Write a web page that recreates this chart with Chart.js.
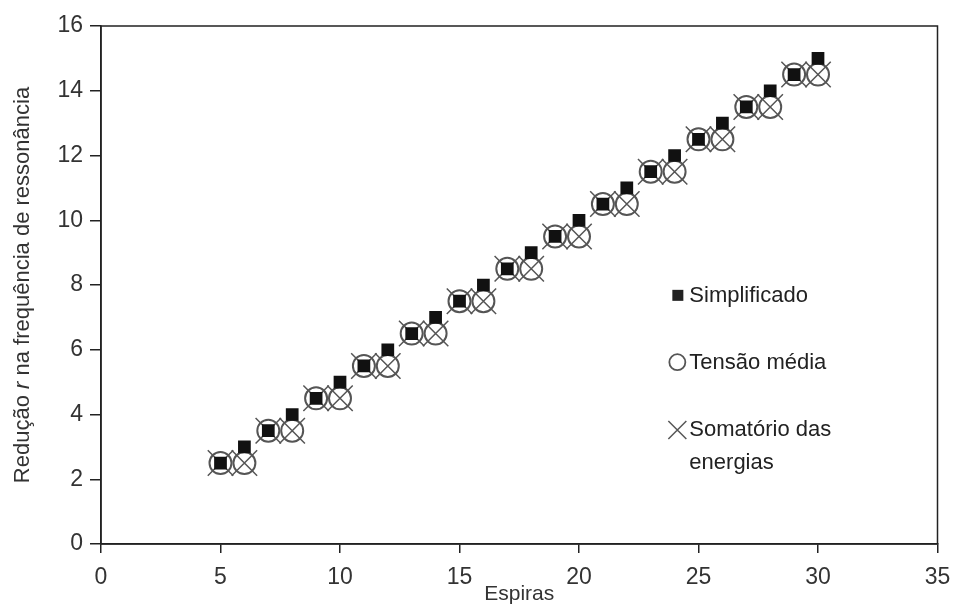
<!DOCTYPE html>
<html>
<head>
<meta charset="utf-8">
<script src="https://cdn.jsdelivr.net/npm/chart.js@4/dist/chart.umd.min.js"></script>
<style>
  body { margin: 0; background: #fff; }
</style>
</head>
<body>
<canvas id="chartEspiras" width="957" height="607"></canvas>
<script>
// espiras (x) e redução r (y)
var espiras = [5, 6, 7, 8, 9, 10, 11, 12, 13, 14, 15, 16, 17, 18, 19, 20, 21, 22, 23, 24, 25, 26, 27, 28, 29, 30];
var simplificado = [2.5, 3, 3.5, 4, 4.5, 5, 5.5, 6, 6.5, 7, 7.5, 8, 8.5, 9, 9.5, 10, 10.5, 11, 11.5, 12, 12.5, 13, 13.5, 14, 14.5, 15];
var tensaoMedia = [2.5, 2.5, 3.5, 3.5, 4.5, 4.5, 5.5, 5.5, 6.5, 6.5, 7.5, 7.5, 8.5, 8.5, 9.5, 9.5, 10.5, 10.5, 11.5, 11.5, 12.5, 12.5, 13.5, 13.5, 14.5, 14.5];
var somatorio = [2.5, 2.5, 3.5, 3.5, 4.5, 4.5, 5.5, 5.5, 6.5, 6.5, 7.5, 7.5, 8.5, 8.5, 9.5, 9.5, 10.5, 10.5, 11.5, 11.5, 12.5, 12.5, 13.5, 13.5, 14.5, 14.5];
var xTicks = [0, 5, 10, 15, 20, 25, 30, 35];
var yTicks = [0, 2, 4, 6, 8, 10, 12, 14, 16];

function pts(ys) {
    return espiras.map(function (x, i) { return { x: x, y: ys[i] }; });
}

var FONT = '"Liberation Sans", Arial, sans-serif';
var TXT = '#333';

// moldura, legenda e título do eixo y (com r em itálico)
var extras = {
    id: 'extras',
    afterDraw: function (chart) {
        var c = chart.ctx, a = chart.chartArea;
        c.save();
        c.strokeStyle = '#222';
        c.lineWidth = 1.5;
        c.strokeRect(a.left, a.top, a.right - a.left, a.bottom - a.top);

        // legenda
        var lx = a.left + (a.right - a.left) * 0.689;
        var ly = function (f) { return a.top + (a.bottom - a.top) * f; };
        c.font = '22px ' + FONT;
        c.fillStyle = '#222';
        c.textBaseline = 'middle';
        c.fillRect(lx - 5, ly(0.519) - 5, 11, 11);
        c.fillText('Simplificado', lx + 12, ly(0.519) + 1);

        c.strokeStyle = '#555';
        c.lineWidth = 1.8;
        c.beginPath();
        c.arc(lx, ly(0.649), 8, 0, Math.PI * 2);
        c.stroke();
        c.fillText('Tensão média', lx + 12, ly(0.651));

        c.lineWidth = 1.5;
        c.beginPath();
        c.moveTo(lx - 9, ly(0.78) - 9); c.lineTo(lx + 9, ly(0.78) + 9);
        c.moveTo(lx - 9, ly(0.78) + 9); c.lineTo(lx + 9, ly(0.78) - 9);
        c.stroke();
        c.fillText('Somatório das', lx + 12, ly(0.78));
        c.fillText('energias', lx + 12, ly(0.844));

        // título eixo y
        c.translate(23, (a.top + a.bottom) / 2);
        c.rotate(-Math.PI / 2);
        c.fillStyle = TXT;
        var p1 = 'Redução ', p2 = 'r', p3 = ' na frequência de ressonância';
        var sz = '22px ';
        c.font = sz + FONT;
        var w1 = c.measureText(p1).width, w3 = c.measureText(p3).width;
        c.font = 'italic ' + sz + FONT;
        var w2 = c.measureText(p2).width;
        var x0 = -(w1 + w2 + w3) / 2;
        c.textAlign = 'left';
        c.font = sz + FONT;
        c.fillText(p1, x0, 0);
        c.font = 'italic ' + sz + FONT;
        c.fillText(p2, x0 + w1, 0);
        c.font = sz + FONT;
        c.fillText(p3, x0 + w1 + w2, 0);
        c.restore();
    }
};

var ctx = document.getElementById('chartEspiras');
var myChart = new Chart(ctx, {
    type: 'scatter',
    data: {
        datasets: [{
            label: 'Simplificado',
            data: pts(simplificado),
            pointStyle: 'rect',
            pointRadius: 9,
            pointBackgroundColor: '#111',
            pointBorderColor: '#111',
            pointBorderWidth: 0
        }, {
            label: 'Tensão média',
            data: pts(tensaoMedia),
            pointStyle: 'circle',
            pointRadius: 11,
            pointBackgroundColor: 'rgba(0,0,0,0)',
            pointBorderColor: '#555',
            pointBorderWidth: 2
        }, {
            label: 'Somatório das energias',
            data: pts(somatorio),
            pointStyle: 'crossRot',
            pointRadius: 18,
            pointBorderColor: '#555',
            pointBorderWidth: 1.5
        }]
    },
    options: {
        responsive: false,
        animation: false,
        layout: { padding: { top: 26, right: 19, left: 0, bottom: 0 } },
        plugins: {
            legend: { display: false },
            tooltip: { enabled: false }
        },
        scales: {
            x: {
                type: 'linear',
                min: 0,
                max: 35,
                afterFit: function (s) { s.height = 63; s.paddingLeft = 0; s.paddingRight = 0; },
                afterBuildTicks: function (s) { s.ticks = xTicks.map(function (v) { return { value: v }; }); },
                grid: { drawOnChartArea: false, tickLength: 9, color: '#222', lineWidth: 1.5 },
                border: { color: '#222', width: 1.5 },
                ticks: { color: TXT, font: { family: FONT, size: 23 }, padding: 11 },
                title: { display: true, text: 'Espiras', color: TXT, font: { family: FONT, size: 21 }, padding: { top: 0, bottom: 0 } }
            },
            y: {
                min: 0,
                max: 16,
                afterFit: function (s) { s.width = 101; s.paddingTop = 0; s.paddingBottom = 0; },
                afterBuildTicks: function (s) { s.ticks = yTicks.map(function (v) { return { value: v }; }); },
                grid: { drawOnChartArea: false, tickLength: 11, color: '#222', lineWidth: 1.5 },
                border: { color: '#222', width: 1.5 },
                ticks: { color: TXT, font: { family: FONT, size: 23 }, padding: 7 }
            }
        }
    },
    plugins: [extras]
});
</script>
</body>
</html>
